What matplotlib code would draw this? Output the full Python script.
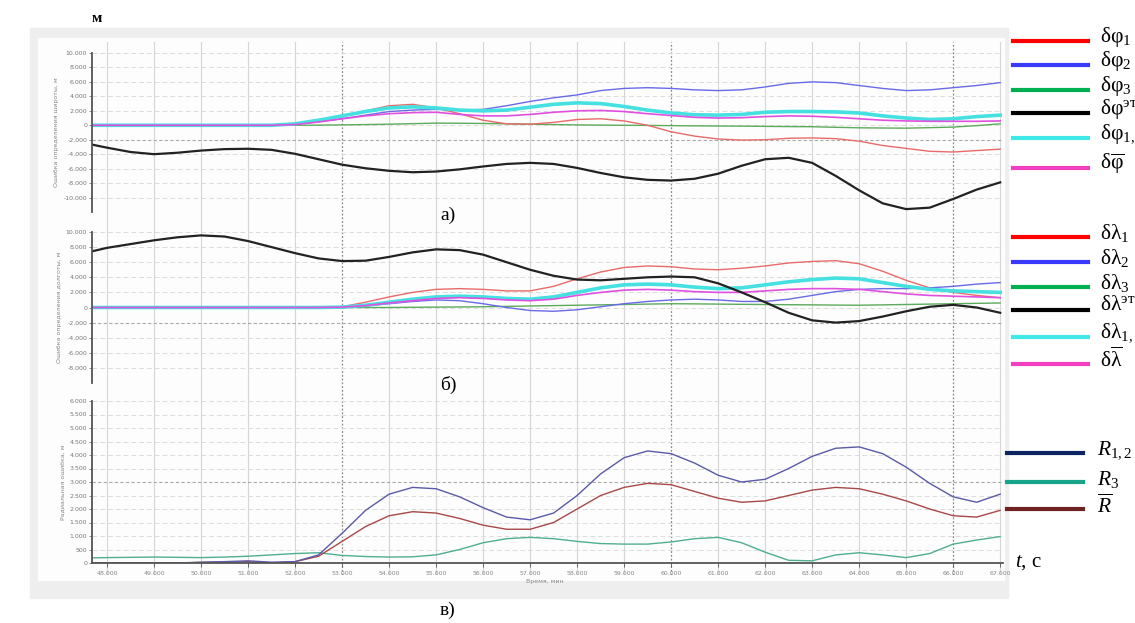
import matplotlib
matplotlib.use("Agg")
import matplotlib.pyplot as plt
from matplotlib.lines import Line2D
from matplotlib.patches import Rectangle

# figure size in pixels, everything below is placed in pixel coords of the reference
W, H = 1135, 623

plt.rcParams['font.family'] = ['Liberation Serif', 'DejaVu Serif']
plt.rcParams['mathtext.fontset'] = 'custom'
plt.rcParams['mathtext.rm'] = 'Liberation Serif'
plt.rcParams['mathtext.it'] = 'Liberation Serif:italic'

# time axis, s
t = [47.7, 48.0, 48.5, 49.0, 49.5, 50.0, 50.5, 51.0, 51.5, 52.0,
     52.5, 53.0, 53.5, 54.0, 54.5, 55.0, 55.5, 56.0, 56.5, 57.0,
     57.5, 58.0, 58.5, 59.0, 59.5, 60.0, 60.5, 61.0, 61.5, 62.0,
     62.5, 63.0, 63.5, 64.0, 64.5, 65.0, 65.5, 66.0, 66.5, 67.0]
t_ticks = list(range(48, 68))

# --- a) latitude errors, m
phi_1 = [0, 0, 0, 0, 0, 0, 0, 0, 0, 150,
         600, 1300, 2000, 2700, 2900, 2400, 1600, 700, 200, 150,
         400, 800, 900, 600, 0, -900, -1500, -1900, -2050, -2000,
         -1800, -1750, -1850, -2200, -2800, -3200, -3600, -3700, -3500, -3300]
phi_2 = [0, 0, 0, 0, 0, 0, 0, 0, 0, 150,
         500, 900, 1400, 1900, 2100, 2200, 2100, 2200, 2700, 3300,
         3800, 4200, 4800, 5100, 5200, 5100, 4900, 4800, 4900, 5300,
         5800, 6000, 5900, 5500, 5100, 4800, 4900, 5200, 5500, 5900]
phi_3 = [0, 0, 0, 0, 0, 0, 0, 0, 0, 0,
         20, 50, 100, 150, 220, 300, 280, 250, 200, 150,
         100, 50, 20, 0, -20, -50, -80, -100, -120, -150,
         -180, -200, -280, -350, -380, -400, -330, -250, -50, 200]
phi_et = [-2700, -3100, -3700, -4000, -3800, -3500, -3300, -3250, -3400, -3950,
          -4700, -5450, -5950, -6300, -6500, -6400, -6100, -5700, -5350, -5200,
          -5350, -5900, -6600, -7200, -7550, -7650, -7400, -6700, -5600, -4700,
          -4500, -5200, -7000, -9000, -10800, -11600, -11400, -10200, -8900, -7900]
phi_12 = [0, 0, 0, 0, 0, 0, 0, 0, 0, 200,
          700, 1300, 1900, 2400, 2550, 2400, 2100, 2000, 2100, 2500,
          2900, 3100, 3000, 2600, 2100, 1700, 1450, 1400, 1500, 1800,
          1900, 1900, 1850, 1700, 1300, 1000, 800, 900, 1200, 1400]
phi_mean = [0, 0, 0, 0, 0, 0, 0, 0, 0, 100,
            450, 900, 1300, 1600, 1750, 1800, 1500, 1300, 1300, 1500,
            1800, 2000, 2050, 1900, 1600, 1350, 1100, 1000, 1050, 1200,
            1300, 1250, 1100, 900, 700, 600, 550, 550, 550, 600]

# --- б) longitude errors, m
lam_1 = [0, 0, 0, 0, 0, 0, 0, 0, 0, 0,
         0, 100, 700, 1400, 2000, 2400, 2500, 2400, 2200, 2200,
         2800, 3800, 4700, 5300, 5500, 5400, 5100, 5000, 5200, 5500,
         5900, 6100, 6200, 5800, 4800, 3600, 2600, 2000, 1600, 1300]
lam_2 = [0, 0, 0, 0, 0, 0, 0, 0, 0, 0,
         0, 0, 200, 500, 800, 1000, 900, 500, 0, -400,
         -500, -300, 100, 500, 800, 1000, 1100, 1000, 800, 800,
         1100, 1600, 2100, 2400, 2500, 2500, 2600, 2800, 3100, 3300]
lam_3 = [0, 0, 0, 0, 0, 0, 0, 0, 0, 0,
         0, 0, 0, 0, 30, 50, 70, 100, 150, 200,
         250, 300, 350, 400, 450, 500, 480, 450, 420, 400,
         370, 350, 320, 300, 350, 400, 450, 500, 550, 600]
lam_et = [7470, 7900, 8400, 8900, 9300, 9550, 9400, 8800, 8000, 7200,
          6500, 6150, 6200, 6700, 7300, 7700, 7600, 7000, 6000, 5000,
          4200, 3700, 3600, 3800, 4000, 4100, 4000, 3200, 2000, 700,
          -700, -1700, -2000, -1800, -1200, -500, 100, 350, 0, -700]
lam_12 = [0, 0, 0, 0, 0, 0, 0, 0, 0, 0,
          0, 50, 300, 700, 1100, 1400, 1500, 1400, 1200, 1100,
          1400, 2000, 2600, 3000, 3100, 3000, 2700, 2500, 2600, 3000,
          3400, 3700, 3900, 3800, 3300, 2800, 2400, 2200, 2100, 2000]
lam_mean = [0, 0, 0, 0, 0, 0, 0, 0, 0, 0,
            0, 50, 250, 600, 900, 1200, 1300, 1200, 1000, 900,
            1100, 1600, 2000, 2300, 2400, 2300, 2100, 2000, 2000, 2200,
            2400, 2500, 2500, 2400, 2100, 1800, 1600, 1500, 1400, 1300]

# --- в) radial errors, m
r_12 = [0, 0, 0, 0, 0, 30, 50, 80, 30, 50,
        300, 1100, 1950, 2550, 2800, 2750, 2450, 2050, 1700, 1600,
        1850, 2500, 3300, 3900, 4150, 4050, 3700, 3250, 3000, 3100,
        3500, 3950, 4250, 4300, 4050, 3550, 2950, 2450, 2250, 2550]
r_3 = [190, 200, 210, 220, 210, 200, 220, 250, 300, 350,
       380, 280, 240, 220, 230, 300, 500, 750, 900, 950,
       900, 800, 720, 700, 700, 780, 900, 950, 750, 400,
       100, 80, 300, 380, 300, 200, 350, 700, 850, 980]
r_mean = [0, 0, 0, 0, 0, 20, 30, 50, 0, 50,
          250, 800, 1350, 1750, 1900, 1850, 1650, 1400, 1250, 1250,
          1500, 2000, 2500, 2800, 2950, 2900, 2650, 2400, 2250, 2300,
          2500, 2700, 2800, 2750, 2550, 2300, 2000, 1750, 1700, 1950]


def fx(px):
    return px / W


def fy(py):
    return 1 - py / H


fig = plt.figure(figsize=(W / 100, H / 100), dpi=100)
fig.patch.set_facecolor('white')

# screenshot frame (behind the axes)
fig.patches.append(Rectangle((fx(30), fy(598)), fx(1008) - fx(30), fy(28) - fy(598),
                             transform=fig.transFigure, color='#eeeeee', zorder=-2))
fig.patches.append(Rectangle((fx(38), fy(580)), fx(1004) - fx(38), fy(38) - fy(580),
                             transform=fig.transFigure, color='#fdfdfd', zorder=-1))

XL = (47.68, 67.06)
AXL, AXR = 92, 1003

# vertical grid running through all three panels
bg = fig.add_axes([fx(AXL), fy(575), fx(AXR) - fx(AXL), fy(42) - fy(575)])
bg.set_xlim(*XL)
bg.set_ylim(0, 1)
bg.axis('off')
for v in t_ticks:
    if v in (53, 60, 66):
        bg.axvline(v, color='#8a8a8a', lw=0.9, ls=(0, (1.5, 1.5)))
    else:
        bg.axvline(v, color='#d6d6d6', lw=0.8)


def fmt(v):
    return f"{v:,}".replace(',', '.')


def panel(top, bottom, ylim, yticks, dark, ylabel, show_x=False):
    ax = fig.add_axes([fx(AXL), fy(bottom), fx(AXR) - fx(AXL), fy(top) - fy(bottom)])
    ax.patch.set_alpha(0)
    ax.set_xlim(*XL)
    ax.set_ylim(*ylim)
    for s in ('top', 'right'):
        ax.spines[s].set_visible(False)
    ax.spines['left'].set_color('#555555')
    ax.spines['left'].set_linewidth(1.3)
    ax.set_yticks(yticks)
    ax.set_yticklabels([fmt(v) for v in yticks], fontsize=4.5,
                       family='DejaVu Sans', color='#777777')
    ax.tick_params(axis='y', length=2, width=0.6, color='#777777', pad=1.5)
    for v in yticks:
        if v == dark:
            ax.axhline(v, color='#aaaaaa', lw=0.8, ls=(0, (3, 2)), zorder=0)
        else:
            ax.axhline(v, color='#dddddd', lw=0.7, ls=(0, (5, 3)), zorder=0)
    ax.set_ylabel(ylabel, fontsize=4.5, family='DejaVu Sans', color='#888888', labelpad=3)
    if show_x:
        ax.spines['bottom'].set_color('#555555')
        ax.spines['bottom'].set_linewidth(1.3)
        ax.set_xticks(t_ticks)
        ax.set_xticklabels([fmt(v * 1000) for v in t_ticks], fontsize=4.5,
                           family='DejaVu Sans', color='#888888')
        ax.tick_params(axis='x', length=3, width=0.6, color='#555555', pad=3)
    else:
        ax.spines['bottom'].set_visible(False)
        ax.set_xticks([])
    return ax


ax1 = panel(53, 212, (-12000, 10000), list(range(-10000, 10001, 2000)), -2000,
            'Ошибка определения широты, м')
ax1.plot(t, phi_3, color='#5caa5c', lw=1.0)
ax1.plot(t, phi_1, color='#e86a6a', lw=1.0)
ax1.plot(t, phi_2, color='#6a6ae6', lw=1.0)
ax1.plot(t, phi_12, color='#45e0e0', lw=2.6)
ax1.plot(t, phi_mean, color='#e050e0', lw=1.2)
ax1.plot(t, phi_et, color='#222222', lw=1.6)

ax2 = panel(232, 383, (-10000, 10000), list(range(-8000, 10001, 2000)), -2000,
            'Ошибка определения долготы, м')
ax2.plot(t, lam_3, color='#5caa5c', lw=1.0)
ax2.plot(t, lam_1, color='#e86a6a', lw=1.0)
ax2.plot(t, lam_2, color='#6a6ae6', lw=1.0)
ax2.plot(t, lam_12, color='#45e0e0', lw=2.6)
ax2.plot(t, lam_mean, color='#e050e0', lw=1.2)
ax2.plot(t, lam_et, color='#222222', lw=1.6)

ax3 = panel(401, 563, (0, 6000), list(range(0, 6001, 500)), 3000,
            'Радиальная ошибка, м', show_x=True)
ax3.plot(t, r_3, color='#4fae90', lw=1.0)
ax3.plot(t, r_mean, color='#a84848', lw=1.0)
ax3.plot(t, r_12, color='#5a5aa8', lw=1.0)
fig.text(fx(545), fy(582), 'Время, мин', fontsize=4.5, family='DejaVu Sans',
         color='#888888', ha='center', va='center')

# panel captions
fig.text(fx(92), fy(18), 'м', fontsize=11, weight='bold', va='center')
fig.text(fx(440), fy(215), 'а)', fontsize=14, va='center')
fig.text(fx(440), fy(385), 'б)', fontsize=14, va='center')
fig.text(fx(440), fy(610), 'в)', fontsize=14, va='center')
fig.text(fx(1015), fy(563), '$t$, с', fontsize=15, va='center')

# hand drawn legends on the right (labels run off the right edge as in the source)
leg_colors = ['#ff0000', '#3a3aff', '#00b050', '#000000', '#40e8e8', '#f040c0']
phi_names = ['δφ$_1$', 'δφ$_2$', 'δφ$_3$', r'δφ$^{\mathrm{эт}}$', 'δφ$_{1,2}$',
             r'δ$\overline{\mathrm{φ}}$']
lam_names = ['δλ$_1$', 'δλ$_2$', 'δλ$_3$', r'δλ$^{\mathrm{эт}}$', 'δλ$_{1,2}$',
             r'δ$\overline{\mathrm{λ}}$']
phi_y = [41, 65, 90, 113, 138, 168]
lam_y = [237, 262, 287, 310, 337, 364]

for col, name, yy in zip(leg_colors, phi_names, phi_y):
    fig.add_artist(Line2D([fx(1013), fx(1088)], [fy(yy), fy(yy)], color=col, lw=3))
    fig.text(fx(1100), fy(yy - 4), name, fontsize=15.5, va='center')
for col, name, yy in zip(leg_colors, lam_names, lam_y):
    fig.add_artist(Line2D([fx(1013), fx(1088)], [fy(yy), fy(yy)], color=col, lw=3))
    fig.text(fx(1100), fy(yy - 4), name, fontsize=15.5, va='center')

r_colors = ['#0c2461', '#17a589', '#6e2222']
r_names = ['$R_{1,2}$', '$R_3$', r'$\overline{R}$']
r_y = [453, 482, 509]
for col, name, yy in zip(r_colors, r_names, r_y):
    fig.add_artist(Line2D([fx(1007), fx(1083)], [fy(yy), fy(yy)], color=col, lw=3))
    fig.text(fx(1097), fy(yy - 3), name, fontsize=15.5, va='center')

fig.savefig('out.png', dpi=100)
